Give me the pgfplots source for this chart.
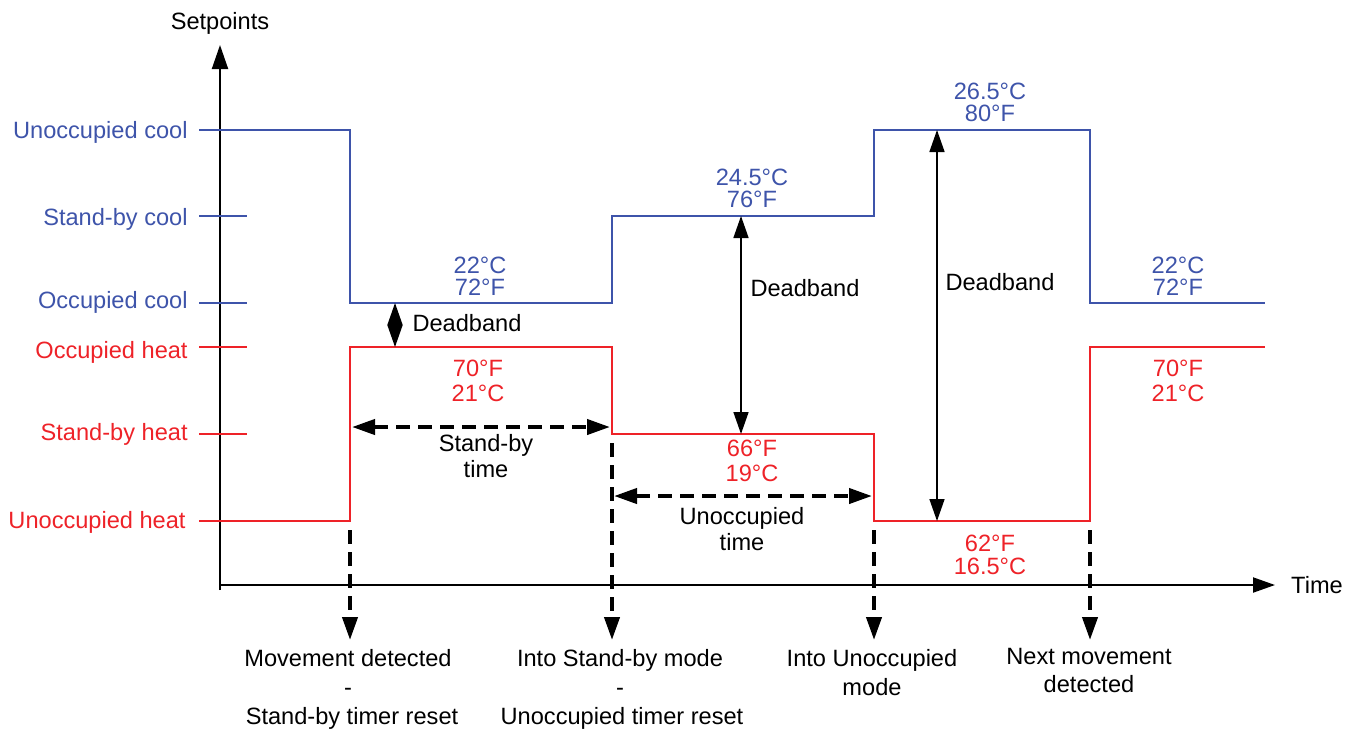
\documentclass[border=0pt]{standalone}
\usepackage{fontspec}
\setmainfont{Liberation Sans}
\usepackage{pgfplots}
\pgfplotsset{compat=1.18}
\usetikzlibrary{arrows.meta}
\definecolor{coolblue}{RGB}{62,84,170}
\definecolor{heatred}{RGB}{238,34,40}

\tikzset{
  lbl/.style={font=\fontsize{11.8}{14}\selectfont, inner sep=0pt, text height=8.45pt, text depth=0pt},
  dbl/.style={line width=0.75pt, arrows={Triangle[length=11pt,width=7.5pt]-Triangle[length=11pt,width=7.5pt]}},
  dsh/.style={line width=2pt, dash pattern=on 7pt off 4pt},
  dtip/.tip={Triangle[length=11.5pt,width=7.5pt]},
}

\begin{document}
\begin{tikzpicture}
\begin{axis}[
  scale only axis, width=679pt, height=364.5pt,
  xmin=0, xmax=1358, ymin=0, ymax=729, y dir=reverse,
  axis lines=none, clip=false,
]
% axes
\addplot[line width=1pt, arrows={-Triangle[length=12pt,width=8pt]}] coordinates {(220,590) (220,45)};
\addplot[line width=1pt, arrows={-Triangle[length=11pt,width=7.5pt]}] coordinates {(220,585) (1275,585)};
\node[lbl] at (axis cs:220,21) {Setpoints};
\node[lbl] at (axis cs:1317,585) {Time};

% setpoint ticks
\addplot[coolblue, line width=1pt] coordinates {(199,216) (247,216)};
\addplot[coolblue, line width=1pt] coordinates {(199,303) (247,303)};
\addplot[heatred, line width=1pt] coordinates {(199,347) (247,347)};
\addplot[heatred, line width=1pt] coordinates {(199,434) (247,434)};

\node[lbl, coolblue, anchor=east] at (axis cs:188,130) {Unoccupied cool};
\node[lbl, coolblue, anchor=east] at (axis cs:188,217) {Stand-by cool};
\node[lbl, coolblue, anchor=east] at (axis cs:188,300) {Occupied cool};
\node[lbl, heatred, anchor=east] at (axis cs:188,350) {Occupied heat};
\node[lbl, heatred, anchor=east] at (axis cs:188,432) {Stand-by heat};
\node[lbl, heatred, anchor=east] at (axis cs:186,520) {Unoccupied heat};

% cooling setpoint
\addplot[coolblue, line width=1pt] coordinates {
  (199,130) (350,130) (350,303) (612,303) (612,216) (874,216)
  (874,130) (1090,130) (1090,303) (1265,303)
};
% heating setpoint
\addplot[heatred, line width=1pt] coordinates {
  (199,521) (350,521) (350,347) (612,347) (612,434) (874,434)
  (874,521) (1090,521) (1090,347) (1265,347)
};

% temperature labels
\node[lbl, coolblue] at (axis cs:480,265) {22°C};
\node[lbl, coolblue] at (axis cs:480,287) {72°F};
\node[lbl, coolblue] at (axis cs:752,177) {24.5°C};
\node[lbl, coolblue] at (axis cs:752,199) {76°F};
\node[lbl, coolblue] at (axis cs:990,91) {26.5°C};
\node[lbl, coolblue] at (axis cs:990,113) {80°F};
\node[lbl, coolblue] at (axis cs:1178,265) {22°C};
\node[lbl, coolblue] at (axis cs:1178,287) {72°F};

\node[lbl, heatred] at (axis cs:478,368) {70°F};
\node[lbl, heatred] at (axis cs:478,393) {21°C};
\node[lbl, heatred] at (axis cs:752,448) {66°F};
\node[lbl, heatred] at (axis cs:752,473) {19°C};
\node[lbl, heatred] at (axis cs:990,543) {62°F};
\node[lbl, heatred] at (axis cs:990,566) {16.5°C};
\node[lbl, heatred] at (axis cs:1178,368) {70°F};
\node[lbl, heatred] at (axis cs:1178,393) {21°C};

% deadbands
\addplot[dbl] coordinates {(395,303) (395,347)};
\addplot[dbl] coordinates {(741,216) (741,434)};
\addplot[dbl] coordinates {(937,130) (937,521)};
\node[lbl] at (axis cs:467,323) {Deadband};
\node[lbl] at (axis cs:805,288) {Deadband};
\node[lbl] at (axis cs:1000,282) {Deadband};

% timers
\addplot[dsh, arrows={dtip-dtip}] coordinates {(352,427) (610,427)};
\addplot[dsh, arrows={dtip-dtip}] coordinates {(614,496) (872,496)};
\node[lbl] at (axis cs:486,443) {Stand-by};
\node[lbl] at (axis cs:486,469) {time};
\node[lbl] at (axis cs:742,516) {Unoccupied};
\node[lbl] at (axis cs:742,542) {time};

% events
\addplot[dsh, arrows={-dtip}] coordinates {(350,530) (350,640)};
\addplot[dsh, arrows={-dtip}] coordinates {(612,443) (612,640)};
\addplot[dsh, arrows={-dtip}] coordinates {(874,530) (874,640)};
\addplot[dsh, arrows={-dtip}] coordinates {(1090,530) (1090,640)};

\node[lbl] at (axis cs:348,658) {Movement detected};
\node[lbl] at (axis cs:348,687) {-};
\node[lbl] at (axis cs:352,716) {Stand-by timer reset};
\node[lbl] at (axis cs:620,658) {Into Stand-by mode};
\node[lbl] at (axis cs:620,687) {-};
\node[lbl] at (axis cs:622,716) {Unoccupied timer reset};
\node[lbl] at (axis cs:872,658) {Into Unoccupied};
\node[lbl] at (axis cs:872,687) {mode};
\node[lbl] at (axis cs:1089,656) {Next movement};
\node[lbl] at (axis cs:1089,684) {detected};
\end{axis}
\pgfresetboundingbox
\path[use as bounding box] (0,0) rectangle (679pt,364.5pt);
\end{tikzpicture}
\end{document}
